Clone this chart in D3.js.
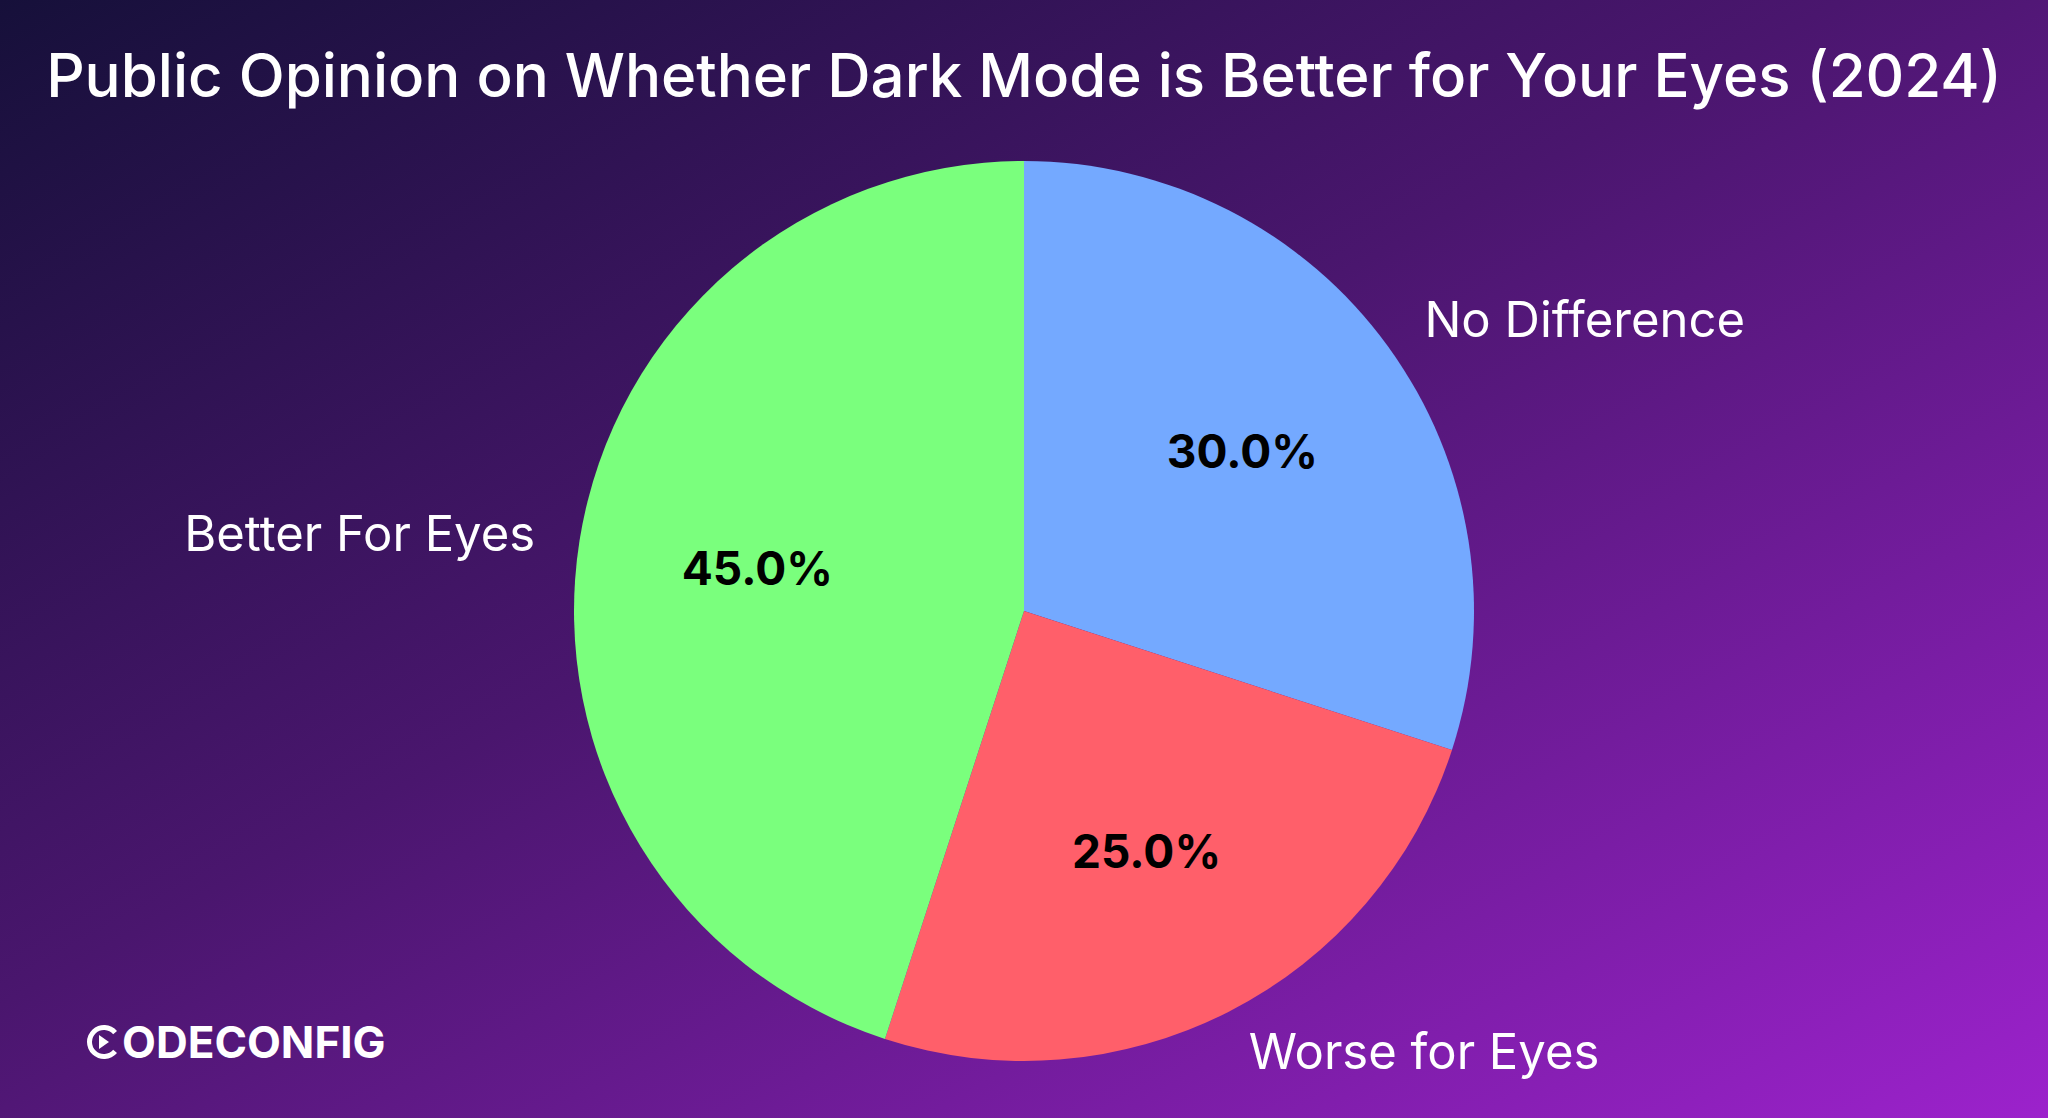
<!DOCTYPE html>
<html>
<head>
<meta charset="utf-8">
<script src="https://cdn.jsdelivr.net/npm/d3@7"></script>
<style>
  body { margin: 0; overflow: hidden; }
  text { font-family: Inter, "Noto Sans", sans-serif; }
</style>
</head>
<body>
<svg id="chart" width="2048" height="1118"></svg>
<script>
// data
var categories = ['No Difference', 'Worse for Eyes', 'Better For Eyes'];
var values = [30, 25, 45];
var colors = ['#74a9ff', '#ff5f6a', '#7aff7d'];

var W = 2048, H = 1118;
var svg = d3.select('#chart');

var defs = svg.append('defs');
var grad = defs.append('linearGradient').attr('id', 'bg')
    .attr('x1', '0%').attr('y1', '0%').attr('x2', '100%').attr('y2', '100%');
grad.append('stop').attr('offset', '0%').attr('stop-color', '#16103a');
grad.append('stop').attr('offset', '45%').attr('stop-color', '#4a166e');
grad.append('stop').attr('offset', '100%').attr('stop-color', '#9c22cc');
svg.append('rect').attr('width', W).attr('height', H).attr('fill', 'url(#bg)');

svg.append('text')
    .attr('x', W / 2).attr('y', 97)
    .attr('text-anchor', 'middle')
    .attr('fill', 'white')
    .attr('font-size', 60)
    .attr('font-weight', 500)
    .text('Public Opinion on Whether Dark Mode is Better for Your Eyes (2024)');

var cx = 1024, cy = 611, r = 450;
var g = svg.append('g').attr('transform', 'translate(' + cx + ',' + cy + ')');

var pie = d3.pie().sort(null).value(function (d) { return d; });
var arcs = pie(values);
var arc = d3.arc().innerRadius(0).outerRadius(r);

g.selectAll('path').data(arcs).enter().append('path')
    .attr('d', arc)
    .attr('fill', function (d, i) { return colors[i]; });

var mid = function (d) { return (d.startAngle + d.endAngle) / 2; };

// outer labels
g.selectAll('text.lab').data(arcs).enter().append('text')
    .attr('class', 'lab')
    .attr('x', function (d) { return Math.sin(mid(d)) * r * 1.1; })
    .attr('y', function (d) { return -Math.cos(mid(d)) * r * 1.1; })
    .attr('dy', '0.35em')
    .attr('text-anchor', function (d) { return Math.sin(mid(d)) >= 0 ? 'start' : 'end'; })
    .attr('fill', 'white')
    .attr('font-size', 49)
    .text(function (d, i) { return categories[i]; });

// percentages
var total = d3.sum(values);
g.selectAll('text.pct').data(arcs).enter().append('text')
    .attr('class', 'pct')
    .attr('x', function (d) { return Math.sin(mid(d)) * r * 0.6; })
    .attr('y', function (d) { return -Math.cos(mid(d)) * r * 0.6; })
    .attr('dy', '0.35em')
    .attr('text-anchor', 'middle')
    .attr('fill', 'black')
    .attr('font-weight', 'bold')
    .attr('font-size', 46)
    .text(function (d) { return (d.value / total * 100).toFixed(1) + '%'; });

// logo
var logo = svg.append('g').attr('transform', 'translate(86,1042)');
logo.append('path')
    .attr('d', d3.arc().innerRadius(12).outerRadius(17)
        .startAngle(Math.PI / 2 + 0.7).endAngle(Math.PI / 2 + 2 * Math.PI - 0.7)())
    .attr('transform', 'translate(18,0)')
    .attr('fill', 'white');
logo.append('path').attr('d', 'M13,-7 L23,0 L13,7 Z').attr('fill', 'white');
logo.append('text').attr('x', 36).attr('y', 0).attr('dy', '0.36em')
    .attr('fill', 'white').attr('font-size', 44).attr('font-weight', 'bold')
    .text('ODECONFIG');
</script>
</body>
</html>
